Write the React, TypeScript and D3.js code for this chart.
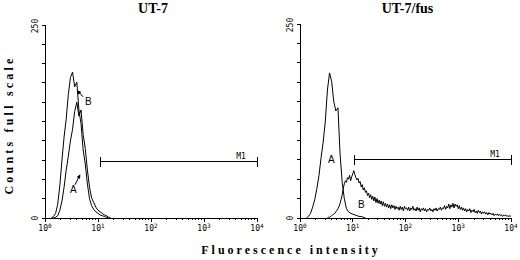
import React from "react";
import * as d3 from "d3";

// histogram channels in log10 fluorescence: start value and channel step per series
const ut7BStart = 0.12;
const ut7BStep = 0.04;
const ut7B = [0, 2, 6, 18, 42, 75, 105, 128, 160, 182, 189, 170, 176, 140, 122, 88, 70, 44, 25, 16, 11, 8, 6, 4, 3, 2, 1, 0];

const ut7AStart = 0.12;
const ut7AStep = 0.04;
const ut7A = [0, 0, 1, 3, 10, 22, 40, 62, 80, 100, 115, 138, 150, 132, 140, 108, 90, 62, 40, 26, 20, 14, 10, 8, 6, 4, 3, 1, 0];

const fusAStart = 0.12;
const fusAStep = 0.04;
const fusA = [0, 2, 6, 14, 24, 38, 55, 78, 98, 125, 165, 187, 176, 150, 138, 142, 82, 46, 25, 12, 8, 6, 5, 4, 3, 2, 2, 1, 0];

const fusBStart = 0.52;
const fusBStep = 0.02;
const fusB = [
  0, 1, 1, 2, 3, 4, 5, 6, 8, 10,
  12, 15, 19, 24, 30, 38, 44, 48, 46, 52,
  50, 55, 48, 53, 57, 61, 56, 52, 49, 51,
  45, 47, 40, 43, 36, 39, 33, 35, 29, 32,
  26, 30, 24, 28, 22, 27, 20, 25, 19, 23,
  18, 22, 16, 21, 15, 19, 14, 18, 13, 17,
  12, 17, 13, 16, 11, 15, 12, 14, 10, 15,
  11, 14, 9, 15, 12, 13, 10, 14, 9, 13,
  11, 15, 10, 12, 9, 14, 10, 13, 8, 12,
  10, 13, 9, 12, 8, 11, 10, 13, 9, 11,
  8, 12, 10, 13, 9, 12, 11, 14, 10, 13,
  12, 16, 11, 15, 13, 18, 12, 17, 14, 19,
  13, 18, 15, 17, 12, 16, 11, 14, 10, 13,
  9, 12, 8, 11, 9, 12, 7, 10, 8, 11,
  7, 9, 6, 10, 7, 9, 5, 8, 6, 8,
  5, 7, 4, 7, 5, 6, 4, 6, 3, 5,
  4, 5, 3, 5, 3, 4, 2, 4, 3, 4,
  2, 3, 2, 3, 2,
];

const titles = ["UT-7", "UT-7/fus"];
const yTickValues = d3.range(0, 251, 25);
const decades = [0, 1, 2, 3, 4];
const gateM1 = [11, 10000];
const gateY = [73, 75];

type Series = { start: number; step: number; counts: number[] };
type Note = { text: string; lx: number; ly: number; arrow?: [number, number, number, number] };

const panels = [
  {
    title: titles[0],
    series: [
      { start: ut7BStart, step: ut7BStep, counts: ut7B },
      { start: ut7AStart, step: ut7AStep, counts: ut7A },
    ] as Series[],
    notes: [
      { text: "B", lx: 0.755, ly: 146, arrow: [0.717, 157, 0.613, 165] },
      { text: "A", lx: 0.47, ly: 32, arrow: [0.566, 43, 0.66, 56] },
    ] as Note[],
    gateY: gateY[0],
    box: { x0: 45, x1: 257, top: 25, bottom: 218 },
  },
  {
    title: titles[1],
    series: [
      { start: fusAStart, step: fusAStep, counts: fusA },
      { start: fusBStart, step: fusBStep, counts: fusB },
    ] as Series[],
    notes: [
      { text: "A", lx: 0.53, ly: 71 },
      { text: "B", lx: 1.1, ly: 13 },
    ] as Note[],
    gateY: gateY[1],
    box: { x0: 300, x1: 511, top: 24, bottom: 218 },
  },
];

const tickFont = "'DejaVu Sans Mono', monospace";
const serif = "'Liberation Serif', 'Times New Roman', serif";

function Panel({ p }: { p: (typeof panels)[number] }) {
  const { x0, x1, top, bottom } = p.box;
  const x = d3.scaleLog().domain([1, 1e4]).range([x0, x1]);
  const y = d3.scaleLinear().domain([0, 250]).range([bottom, top]);
  const line = (s: Series) =>
    d3
      .line<number>()
      .x((_, i) => x(Math.pow(10, s.start + i * s.step)))
      .y((d) => y(d))(s.counts) || "";

  const minor: number[] = [];
  decades.slice(0, -1).forEach((d) => {
    for (let k = 2; k < 10; k++) minor.push(k * Math.pow(10, d));
  });

  const gy = y(p.gateY);
  return (
    <g>
      <text x={(x0 + x1) / 2 + 2} y={13} textAnchor="middle" fontFamily={serif} fontWeight="bold" fontSize={14}>
        {p.title}
      </text>
      {/* axes */}
      <g stroke="#000" strokeWidth={1} shapeRendering="crispEdges">
        <line x1={x0} x2={x0} y1={top} y2={bottom} />
        <line x1={x0} x2={x1} y1={bottom} y2={bottom} />
        {yTickValues.map((v) => (
          <line key={v} x1={x0 - 3} x2={x0} y1={y(v)} y2={y(v)} />
        ))}
        {decades.map((d) => (
          <line key={d} x1={x(Math.pow(10, d))} x2={x(Math.pow(10, d))} y1={bottom} y2={bottom + 4} />
        ))}
        {minor.map((m) => (
          <line key={m} x1={x(m)} x2={x(m)} y1={bottom} y2={bottom + 2} />
        ))}
      </g>
      {[250, 0].map((v) => (
        <text key={v} transform={`translate(${x0 - 7},${y(v) + (v ? 1 : 0)}) rotate(-90)`} textAnchor="middle"
          fontFamily={tickFont} fontSize={8}>
          {v}
        </text>
      ))}
      {decades.map((d) => (
        <text key={d} x={x(Math.pow(10, d))} y={bottom + 13} textAnchor="middle" fontFamily={tickFont} fontSize={8}>
          10<tspan fontSize={6} dy={-3}>{d}</tspan>
        </text>
      ))}
      {/* histograms */}
      {p.series.map((s, i) => (
        <path key={i} d={line(s)} fill="none" stroke="#000" strokeWidth={1} />
      ))}
      {/* M1 gate */}
      <g stroke="#000" strokeWidth={1} shapeRendering="crispEdges">
        <line x1={x(gateM1[0])} x2={x(gateM1[1])} y1={gy} y2={gy} />
        <line x1={x(gateM1[0])} x2={x(gateM1[0])} y1={gy - 5} y2={gy + 5} />
        <line x1={x(gateM1[1])} x2={x(gateM1[1])} y1={gy - 5} y2={gy + 5} />
      </g>
      <text x={x(gateM1[1]) - 16} y={gy - 3} textAnchor="middle" fontFamily={tickFont} fontSize={8}>
        M1
      </text>
      {p.notes.map((n, i) => (
        <g key={i}>
          <text x={x(Math.pow(10, n.lx))} y={y(n.ly)} fill="#000" fontFamily="'Liberation Sans', Arial, sans-serif"
            fontSize={10}>
            {n.text}
          </text>
          {n.arrow && (
            <line
              x1={x(Math.pow(10, n.arrow[0]))}
              y1={y(n.arrow[1])}
              x2={x(Math.pow(10, n.arrow[2]))}
              y2={y(n.arrow[3])}
              stroke="#000"
              strokeWidth={1}
              markerEnd="url(#head)"
            />
          )}
        </g>
      ))}
    </g>
  );
}

export default function App() {
  return (
    <svg width={520} height={260} style={{ position: "absolute", left: 0, top: 0, background: "#fff" }}>
      <defs>
        <marker id="head" viewBox="0 0 10 10" refX={9} refY={5} markerWidth={4} markerHeight={4} orient="auto">
          <path d="M0,0L10,5L0,10z" fill="#000" />
        </marker>
      </defs>
      {panels.map((p, i) => (
        <Panel key={i} p={p} />
      ))}
      <text transform="translate(13,125) rotate(-90)" textAnchor="middle" fontFamily={serif} fontWeight="bold"
        fontSize={12} letterSpacing={3.2}>
        Counts full scale
      </text>
      <text x={291} y={254} textAnchor="middle" fontFamily={serif} fontWeight="bold" fontSize={12} letterSpacing={3}>
        Fluorescence intensity
      </text>
    </svg>
  );
}
